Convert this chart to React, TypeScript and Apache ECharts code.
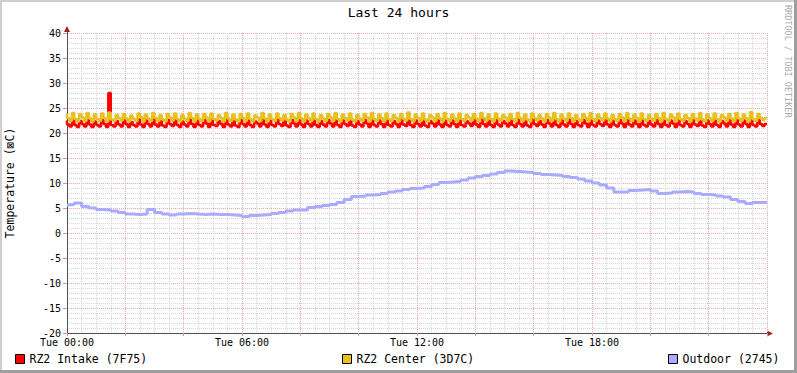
import React, { useEffect, useRef } from "react";
import * as echarts from "echarts";

// Tick labels (hours of day -> label)
const xLabelHours = [0, 6, 12, 18];
const xLabels = ["Tue 00:00", "Tue 06:00", "Tue 12:00", "Tue 18:00"];

const seriesNames = ["RZ2 Intake (7F75)", "RZ2 Center (3D7C)", "Outdoor (2745)"];
const seriesColors = ["#FF0000", "#E8C020", "#AAAAFF"];

// 5-minute samples, one row per hour
const intake = [
  22.5,21.7,21.3, 22.7,21.6,21.2, 22.4,21.8,21.3, 22.6,21.7,21.2,
  22.3,21.6,21.3, 22.6,21.8,21.2, 28.0,21.6,21.3, 22.4,21.7,21.3,
  22.6,21.8,21.2, 22.2,21.6,21.3, 22.7,21.7,21.2, 22.5,21.8,21.3,
  22.8,21.7,21.3, 22.4,21.5,21.2, 22.6,21.8,21.4, 22.7,21.6,21.2,
  22.3,21.7,21.3, 22.8,21.8,21.2, 22.5,21.6,21.3, 22.6,21.9,21.2,
  22.7,21.6,21.4, 22.4,21.8,21.2, 22.8,21.7,21.3, 22.5,21.5,21.2,
  22.6,21.8,21.3, 22.7,21.6,21.2, 22.3,21.9,21.3, 22.8,21.7,21.2,
  22.5,21.6,21.3, 22.7,21.8,21.4, 22.4,21.5,21.2, 22.6,21.9,21.3,
  22.8,21.7,21.2, 22.5,21.8,21.3, 22.7,21.6,21.2, 22.4,21.7,21.3,
  22.6,21.9,21.3, 22.8,21.6,21.2, 22.5,21.8,21.4, 22.7,21.5,21.2,
  22.4,21.7,21.3, 22.6,21.9,21.2, 22.8,21.6,21.3, 22.5,21.8,21.2,
  22.7,21.6,21.3, 22.4,21.8,21.2, 22.6,21.7,21.4, 22.9,21.6,21.2,
  22.5,21.8,21.3, 22.7,21.5,21.2, 22.4,21.9,21.3, 22.6,21.7,21.2,
  22.8,21.6,21.3, 22.5,21.8,21.2, 22.7,21.6,21.3, 22.4,21.9,21.4,
  22.6,21.7,21.2, 22.8,21.8,21.3, 22.5,21.6,21.2, 22.7,21.7,21.3,
  22.4,21.9,21.3, 22.6,21.6,21.2, 22.8,21.8,21.3, 22.5,21.5,21.2,
  22.7,21.8,21.4, 22.4,21.7,21.2, 22.6,21.9,21.3, 22.8,21.6,21.2,
  22.5,21.7,21.3, 22.7,21.8,21.2, 22.4,21.6,21.3, 22.6,21.9,21.2,
  22.8,21.6,21.3, 22.5,21.8,21.4, 22.7,21.7,21.2, 22.4,21.6,21.3,
  22.6,21.9,21.2, 22.8,21.7,21.3, 22.5,21.8,21.2, 22.7,21.6,21.3,
  22.4,21.7,21.3, 22.6,21.8,21.2, 22.8,21.6,21.3, 22.5,21.9,21.2,
  22.7,21.6,21.3, 22.4,21.8,21.2, 22.6,21.7,21.4, 22.8,21.5,21.2,
  22.5,21.8,21.3, 22.7,21.6,21.2, 22.4,21.9,21.3, 22.6,21.7,21.2,
  22.8,21.7,21.3, 22.5,21.8,21.2, 22.9,21.6,21.3, 22.6,21.8,21.4,
  21.8,
];

const center = [
  23.9,23.0,22.4, 24.0,22.8,22.3, 23.8,23.1,22.4, 24.0,22.9,22.3,
  23.7,22.8,22.4, 23.9,23.0,22.3, 24.1,22.7,22.4, 23.6,23.0,22.5,
  23.8,22.9,22.3, 23.5,22.8,22.4, 23.9,23.2,22.3, 23.7,22.9,22.4,
  24.0,23.0,22.4, 23.6,22.7,22.3, 23.8,23.1,22.5, 23.9,22.8,22.3,
  23.6,22.9,22.4, 24.0,23.0,22.3, 23.7,22.8,22.4, 23.8,23.1,22.3,
  23.9,22.8,22.5, 23.6,23.0,22.3, 24.0,22.9,22.4, 23.7,22.7,22.3,
  23.8,23.0,22.4, 23.9,22.8,22.3, 23.5,23.1,22.4, 24.0,22.9,22.3,
  23.7,22.8,22.4, 23.9,23.0,22.5, 23.6,22.7,22.3, 23.8,23.1,22.4,
  24.0,22.9,22.3, 23.7,23.0,22.4, 23.9,22.8,22.3, 23.6,22.9,22.4,
  23.8,23.1,22.4, 24.0,22.8,22.3, 23.7,23.0,22.5, 23.9,22.7,22.3,
  23.6,22.9,22.4, 23.8,23.1,22.3, 24.0,22.8,22.4, 23.7,23.0,22.3,
  23.9,22.8,22.4, 23.6,23.0,22.3, 23.8,22.9,22.5, 24.1,22.8,22.3,
  23.7,23.0,22.4, 23.9,22.7,22.3, 23.6,23.1,22.4, 23.8,22.9,22.3,
  24.0,22.8,22.4, 23.7,23.0,22.3, 23.9,22.8,22.4, 23.6,23.1,22.5,
  23.8,22.9,22.3, 24.0,23.0,22.4, 23.7,22.8,22.3, 23.9,22.9,22.4,
  23.6,23.1,22.4, 23.8,22.8,22.3, 24.0,23.0,22.4, 23.7,22.7,22.3,
  23.9,23.0,22.5, 23.6,22.9,22.3, 23.8,23.1,22.4, 24.0,22.8,22.3,
  23.7,22.9,22.4, 23.9,23.0,22.3, 23.6,22.8,22.4, 23.8,23.1,22.3,
  24.0,22.8,22.4, 23.7,23.0,22.5, 23.9,22.9,22.3, 23.6,22.8,22.4,
  23.8,23.1,22.3, 24.0,22.9,22.4, 23.7,23.0,22.3, 23.9,22.8,22.4,
  23.6,22.9,22.4, 23.8,23.0,22.3, 24.0,22.8,22.4, 23.7,23.1,22.3,
  23.9,22.8,22.4, 23.6,23.0,22.3, 23.8,22.9,22.5, 24.0,22.7,22.3,
  23.7,23.0,22.4, 23.9,22.8,22.3, 23.6,23.1,22.4, 23.8,22.9,22.3,
  24.0,22.9,22.4, 23.7,23.0,22.3, 24.2,22.8,22.4, 23.8,23.0,22.6,
  23.0,
];

// 15-minute samples
const outdoor = [
  5.6, 5.7, 6.0, 5.3, 5.0, 4.7, 4.6, 4.4, 4.1, 3.8, 3.7, 3.8,
  4.7, 4.1, 3.8, 3.6, 3.8, 3.9, 3.8, 3.7, 3.8, 3.7, 3.7, 3.6,
  3.5, 3.3, 3.5, 3.6, 3.7, 3.9, 4.1, 4.4, 4.6, 4.6, 5.1, 5.3,
  5.5, 5.7, 6.1, 6.7, 7.3, 7.4, 7.6, 7.7, 7.9, 8.2, 8.4, 8.7,
  8.9, 9.0, 9.3, 9.7, 10.1, 10.2, 10.3, 10.6, 11.0, 11.3, 11.5, 11.8,
  12.1, 12.4, 12.3, 12.2, 12.1, 11.9, 11.7, 11.6, 11.5, 11.3, 11.1, 10.8,
  10.4, 10.0, 9.6, 9.0, 8.2, 8.2, 8.5, 8.6, 8.7, 8.4, 7.9, 8.0,
  8.2, 8.3, 8.2, 7.9, 7.7, 7.6, 7.4, 7.2, 6.7, 6.3, 5.9, 6.1,
  6.1,
];

const FONT = "'DejaVu Sans Mono', monospace";

export default function App() {
  const ref = useRef<HTMLDivElement>(null);
  useEffect(() => {
    document.body.style.margin = "0";
    if (!ref.current) return;
    const chart = echarts.init(ref.current, null, { renderer: "svg" });
    const toPairs = (arr: number[], stepH: number) => arr.map((v, i) => [i * stepH, v]);
    const legendLefts = [15, 342, 668];
    const option: any = {
      animation: false,
      backgroundColor: "#FFFFFF",
      title: {
        text: "Last 24 hours",
        left: "center",
        top: 1,
        textStyle: { fontFamily: FONT, fontSize: 13, fontWeight: "normal", color: "#000" },
      },
      legend: seriesNames.map((n, i) => ({
        data: [n],
        left: legendLefts[i],
        top: 353,
        padding: 0,
        icon: "rect",
        itemWidth: 9,
        itemHeight: 9,
        itemGap: 5,
        selectedMode: false,
        itemStyle: { borderColor: "#000", borderWidth: 1 },
        lineStyle: { width: 0 },
        textStyle: { fontFamily: FONT, fontSize: 11.5, color: "#000", padding: [0, 0, 0, 0] },
      })),
      grid: {
        left: 67,
        top: 33,
        width: 700,
        height: 300,
        containLabel: false,
        outerBoundsMode: "none",
      },
      xAxis: {
        type: "value",
        min: 0,
        max: 24,
        interval: 2,
        axisLine: { show: true, onZero: false, lineStyle: { color: "#505050", width: 1 } },
        axisTick: { show: true, length: 3, lineStyle: { color: "#E09090" } },
        axisLabel: {
          fontFamily: FONT,
          fontSize: 10,
          lineHeight: 10,
          color: "#000",
          margin: 4,
          formatter: (v: number) => {
            const k = xLabelHours.indexOf(v);
            return k >= 0 ? xLabels[k] : "";
          },
        },
        splitLine: { show: true, lineStyle: { color: "#EBAAAA", type: [1, 1], width: 1 } },
        minorTick: { show: false, splitNumber: 4 },
        minorSplitLine: { show: true, lineStyle: { color: "#D6D6D6", type: [1, 1], width: 1 } },
      },
      yAxis: {
        type: "value",
        min: -20,
        max: 40,
        interval: 5,
        name: "Temperature (⊠C)",
        nameLocation: "middle",
        nameGap: 51,
        nameTextStyle: { fontFamily: FONT, fontSize: 11.5, color: "#000" },
        axisLine: { show: true, lineStyle: { color: "#505050", width: 1 } },
        axisTick: { show: true, length: 4, lineStyle: { color: "#E09090" } },
        axisLabel: { fontFamily: FONT, fontSize: 10, lineHeight: 8, color: "#000", margin: 6 },
        splitLine: { show: true, lineStyle: { color: "#EBAAAA", type: [1, 1], width: 1 } },
        minorTick: { show: false, splitNumber: 5 },
        minorSplitLine: { show: true, lineStyle: { color: "#D6D6D6", type: [1, 1], width: 1 } },
      },
      series: [
        {
          name: seriesNames[0],
          type: "line",
          step: "start",
          showSymbol: false,
          color: seriesColors[0],
          lineStyle: { width: 2.5, color: seriesColors[0] },
          data: toPairs(intake, 5 / 60),
          z: 3,
        },
        {
          name: seriesNames[1],
          type: "line",
          step: "start",
          showSymbol: false,
          color: seriesColors[1],
          lineStyle: { width: 2.5, color: seriesColors[1] },
          data: toPairs(center, 5 / 60),
          z: 4,
        },
        {
          name: seriesNames[2],
          type: "line",
          step: "start",
          showSymbol: false,
          color: seriesColors[2],
          lineStyle: { width: 3, color: seriesColors[2] },
          data: toPairs(outdoor, 15 / 60),
          z: 5,
        },
      ],
      graphic: [
        { type: "rect", shape: { x: 0, y: 0, width: 797, height: 2 }, style: { fill: "#CFCFCF" }, silent: true },
        { type: "rect", shape: { x: 0, y: 0, width: 2, height: 373 }, style: { fill: "#CFCFCF" }, silent: true },
        { type: "rect", shape: { x: 0, y: 370, width: 797, height: 3 }, style: { fill: "#9E9E9E" }, silent: true },
        { type: "rect", shape: { x: 794, y: 0, width: 3, height: 373 }, style: { fill: "#9E9E9E" }, silent: true },
        { type: "polygon", shape: { points: [[64, 32], [70, 32], [67, 26]] }, style: { fill: "#A02020" }, silent: true },
        { type: "line", shape: { x1: 67.5, y1: 32, x2: 67.5, y2: 34 }, style: { stroke: "#505050", lineWidth: 1 }, silent: true },
        { type: "polygon", shape: { points: [[767, 330.5], [767, 336.5], [773, 333.5]] }, style: { fill: "#A02020" }, silent: true },
        {
          type: "text",
          x: 788,
          y: 5,
          rotation: -Math.PI / 2,
          style: {
            text: "RRDTOOL / TOBI OETIKER",
            fill: "#AAAAAA",
            font: "8.5px 'DejaVu Sans Mono', monospace",
            align: "left",
            verticalAlign: "middle",
          },
          silent: true,
        },
      ],
    };
    chart.setOption(option);
    return () => chart.dispose();
  }, []);
  return <div ref={ref} style={{ width: 797, height: 373 }} />;
}
